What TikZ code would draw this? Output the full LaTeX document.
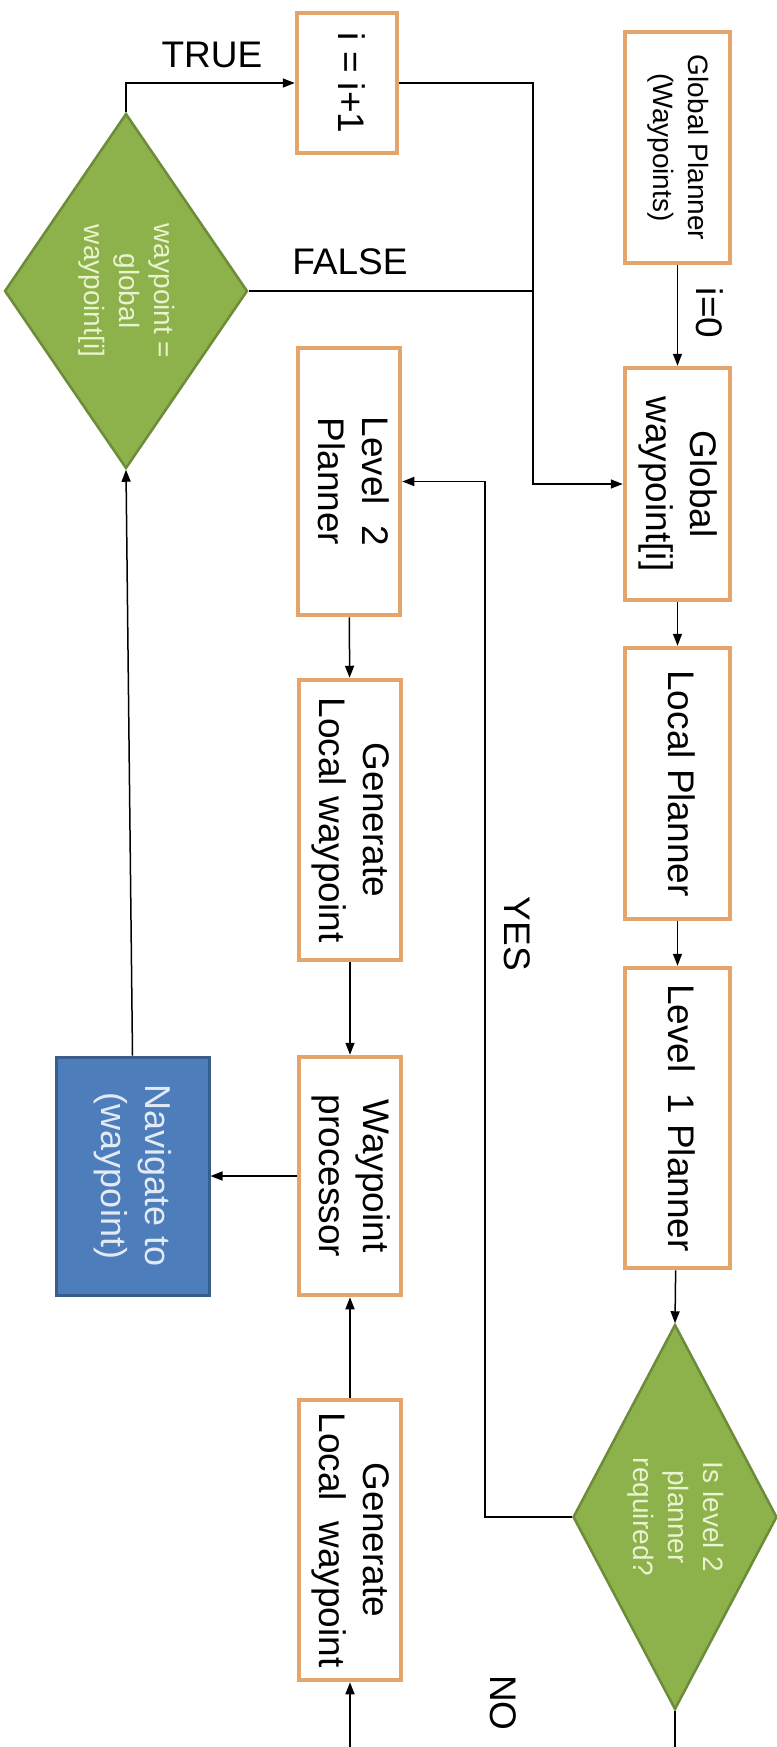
\documentclass[tikz,border=0pt]{standalone}
\usepackage{fontspec}
\setmainfont{Liberation Sans}
\usetikzlibrary{arrows.meta,shapes.geometric}

\definecolor{boxline}{HTML}{E3A56C}
\definecolor{leaf}{HTML}{8DB14B}
\definecolor{leafline}{HTML}{6C8C3A}
\definecolor{leaftext}{HTML}{EAF3CF}
\definecolor{navfill}{HTML}{4E7DBB}
\definecolor{navline}{HTML}{3A5E8C}
\definecolor{navtext}{HTML}{E2EAF6}

% text that reads from top to bottom
\newcommand{\vtext}[1]{\rotatebox{-90}{\begin{tabular}{@{}c@{}}#1\end{tabular}}}

\begin{document}
\begin{tikzpicture}[x=1pt,y=-1pt,
  stepbox/.style={draw=boxline, line width=4.5pt, fill=white, inner sep=0pt,
    font=\fontsize{37}{44}\selectfont},
  smallbox/.style={stepbox, font=\fontsize{28}{35}\selectfont},
  navbox/.style={draw=navline, line width=3pt, fill=navfill, text=navtext, inner sep=0pt,
    font=\fontsize{36}{44}\selectfont},
  decision/.style={diamond, draw=leafline, line width=2.5pt, fill=leaf, inner sep=0pt},
  dtext/.style={text=leaftext, inner sep=0pt, font=\fontsize{28}{35}\selectfont},
  lbl/.style={inner sep=0pt, font=\fontsize{37}{44}\selectfont},
  link/.style={line width=1.5pt},
  flow/.style={link, -{Triangle[length=12pt,width=9pt]}}]

\useasboundingbox[fill=white] (0,0) rectangle (776,1747);

% right column
\node[smallbox, minimum width=105pt, minimum height=231pt] (gp) at (677.5,147.5)
  {\vtext{Global Planner\\(Waypoints)}};
\node[stepbox, minimum width=105pt, minimum height=232pt] (gw) at (677.5,484)
  {\vtext{Global\\waypoint[i]}};
\node[stepbox, minimum width=105pt, minimum height=271pt] (lp) at (677.5,783.5)
  {\vtext{Local Planner}};
\node[stepbox, minimum width=105pt, minimum height=300pt] (l1) at (677.5,1118)
  {\vtext{Level\ \ 1 Planner}};
\node[decision, minimum width=204pt, minimum height=385pt] (d1) at (675,1517) {};
\node[dtext] at (d1) {\vtext{Is level 2\\planner\\required?}};

% middle column
\node[stepbox, minimum width=100pt, minimum height=140pt] (ii) at (347,83)
  {\vtext{i = i+1}};
\node[stepbox, minimum width=102pt, minimum height=267pt] (l2) at (349,481.5)
  {\vtext{Level\ \ 2\\Planner}};
\node[stepbox, minimum width=102pt, minimum height=280pt] (g1) at (350,820)
  {\vtext{Generate\\Local waypoint}};
\node[stepbox, minimum width=102pt, minimum height=238pt] (wp) at (350,1176)
  {\vtext{Waypoint\\processor}};
\node[stepbox, minimum width=102pt, minimum height=280pt] (g2) at (350,1540)
  {\vtext{Generate\\Local\ \ waypoint}};

% left column
\node[decision, minimum width=243pt, minimum height=355pt] (d2) at (126,291) {};
\node[dtext] at (d2) {\vtext{waypoint =\\global\\waypoint[i]}};
\node[navbox, minimum width=153pt, minimum height=238pt] (nav) at (132.5,1176)
  {\vtext{Navigate to\\(waypoint)}};

% routing points
\coordinate (jn) at (533,291);
\coordinate (yc) at (485,1517);
\coordinate (noout) at (675,1752);
\coordinate (g2in) at (350,1752);

% connectors
\draw[flow] (gp) -- (gw);
\draw[flow] (gw) -- (lp);
\draw[flow] (lp) -- (l1);
\draw[flow] (l1) -- (d1.north);
\draw[flow] (d1.west) -- (yc) |- (l2.east);
\draw[flow] (l2) -- (g1);
\draw[flow] (g1) -- (wp);
\draw[flow] (g2) -- (wp);
\draw[flow] (g2in) -- (g2);
\draw[link] (d1.south) -- (noout);
\draw[flow] (wp.west) -- (nav.east);
\draw[flow] (nav.north) -- (d2.south);
\draw[flow] (d2.north) |- (ii.west);
\draw[link] (d2.east) -- (jn);
\draw[flow] (ii.east) -| (jn) |- (gw.west);

% branch labels
\node[lbl] (ltrue) at (212,55) {TRUE};
\node[lbl] (lfalse) at (350,262) {FALSE};
\node[lbl] (lzero) at (710,313) {\rotatebox{-90}{i=0}};
\node[lbl] (lyes) at (517,934) {\rotatebox{-90}{YES}};
\node[lbl] (lno) at (503,1703) {\rotatebox{-90}{NO}};
\end{tikzpicture}
\end{document}
